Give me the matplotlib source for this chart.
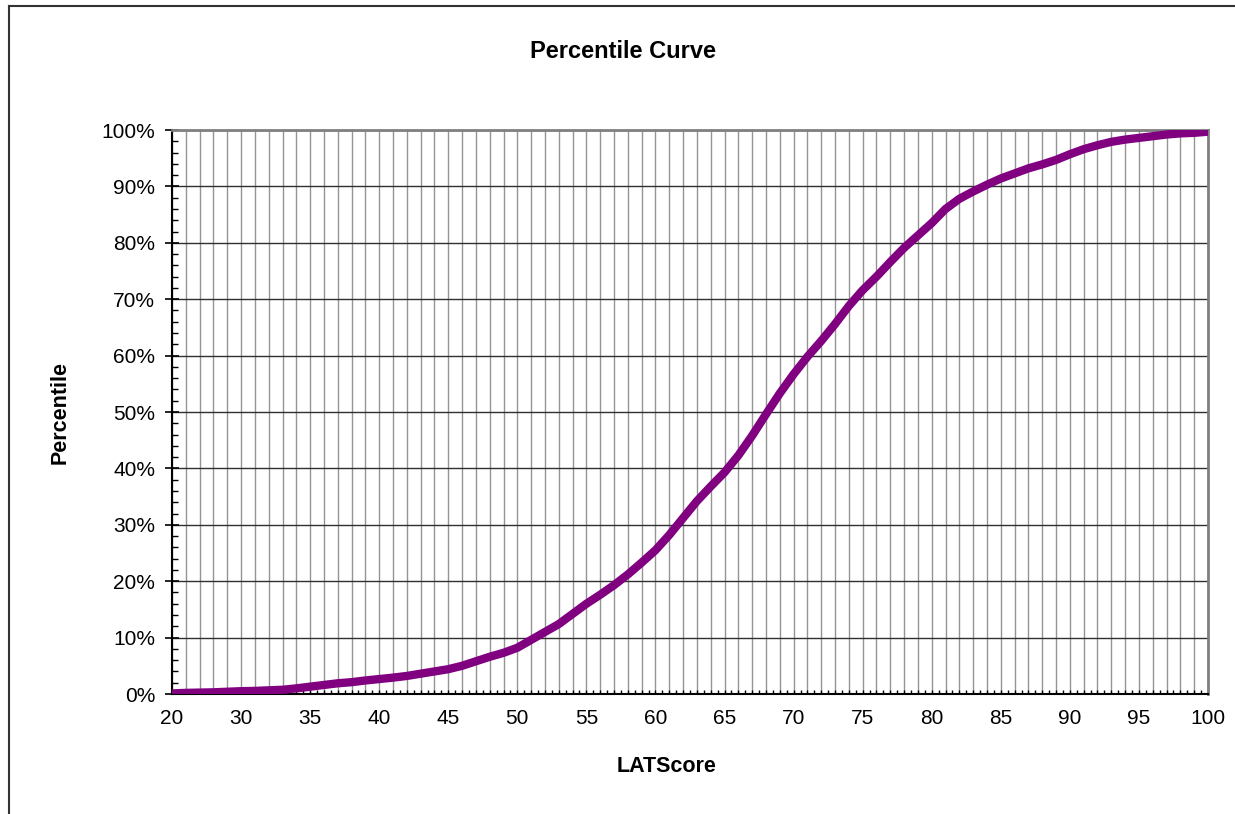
import numpy as np
import matplotlib.pyplot as plt
from matplotlib.lines import Line2D
from matplotlib.ticker import FixedLocator, MultipleLocator, PercentFormatter

plt.rcParams['font.family'] = ['Liberation Sans', 'DejaVu Sans']

# LAT score categories (category axis, every 5th labelled)
scores = [20, 26, 27, 28, 29] + list(range(30, 101))

# cumulative percentile per score
percentile = [
    0.1, 0.2, 0.25, 0.3, 0.4,
    0.5, 0.55, 0.65, 0.75, 1.0,
    1.3, 1.6, 1.9, 2.1, 2.4,
    2.65, 2.9, 3.2, 3.6, 4.0,
    4.4, 5.0, 5.8, 6.6, 7.3,
    8.2, 9.6, 11.0, 12.4, 14.2,
    16.0, 17.6, 19.3, 21.2, 23.3,
    25.5, 28.2, 31.2, 34.2, 36.8,
    39.3, 42.3, 45.8, 49.6, 53.3,
    56.7, 59.8, 62.6, 65.6, 68.8,
    71.6, 74.0, 76.6, 79.1, 81.3,
    83.5, 86.0, 87.8, 89.1, 90.3,
    91.4, 92.3, 93.2, 93.9, 94.7,
    95.7, 96.6, 97.3, 97.9, 98.3,
    98.6, 98.9, 99.2, 99.4, 99.5,
    99.7,
]

fig = plt.figure(figsize=(12.35, 8.14), dpi=100)
ax = fig.add_axes([172 / 1235, 1 - 694 / 814, 1036 / 1235, 564 / 814])

x = np.arange(len(scores))
ax.plot(x, percentile, color="#800080", linewidth=6, solid_capstyle="round", zorder=5)

ax.set_xlim(0, len(scores) - 1)
ax.set_ylim(0, 100)

# gridlines
ax.xaxis.set_major_locator(FixedLocator(x[::5]))
ax.set_xticklabels([str(scores[i]) for i in x[::5]])
for i in x:
    ax.axvline(i, color="#949494", linewidth=1.0, zorder=1)
ax.yaxis.set_major_locator(MultipleLocator(10))
ax.yaxis.set_minor_locator(MultipleLocator(2))
ax.yaxis.set_major_formatter(PercentFormatter(decimals=0))
ax.grid(True, axis="y", which="major", color="#303030", linewidth=1.0, zorder=1)

ax.xaxis.set_minor_locator(MultipleLocator(0.5))
ax.tick_params(axis="x", which="both", direction="in", length=3, width=1, pad=11, labelsize=15)
ax.tick_params(axis="y", which="major", direction="inout", length=10, width=1.2, pad=7, labelsize=15)
ax.tick_params(axis="y", which="minor", direction="in", length=4, width=1)

for side in ["top", "right"]:
    ax.spines[side].set_color("#808080")
    ax.spines[side].set_linewidth(2)
for side in ["left", "bottom"]:
    ax.spines[side].set_color("black")
    ax.spines[side].set_linewidth(1.5)

fig.text(623 / 1235, 1 - 52 / 814, "Percentile Curve", ha="center", va="center",
         fontsize=17, fontweight="bold")
fig.text(667 / 1235, 1 - 767 / 814, "LATScore", ha="center", va="center",
         fontsize=15.5, fontweight="bold")
fig.text(60 / 1235, 1 - 412 / 814, "Percentile", ha="center", va="center",
         rotation=90, fontsize=15.5, fontweight="bold")

# chart area border (runs off the right and bottom edges)
fig.add_artist(Line2D([9 / 1235, 9 / 1235], [1 - 6 / 814, 0], color="#333333", linewidth=1.5))
fig.add_artist(Line2D([9 / 1235, 1], [1 - 6 / 814, 1 - 6 / 814], color="#333333", linewidth=1.5))

fig.savefig("out.png", dpi=100)
